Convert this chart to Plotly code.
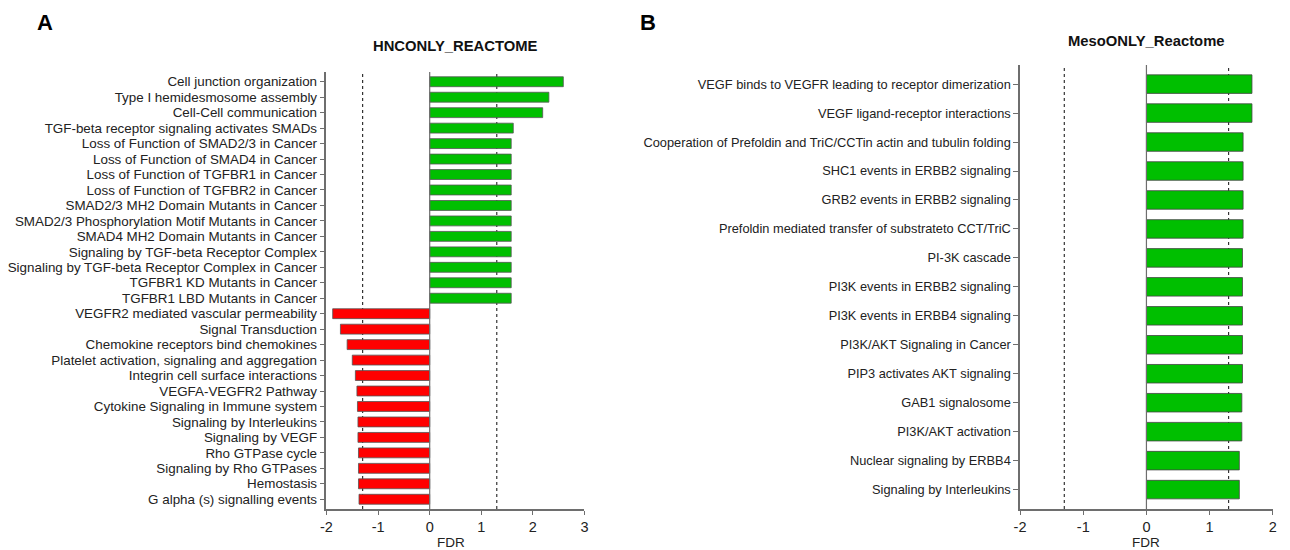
import plotly.graph_objects as go

# Panel A: HNC-only Reactome pathways (signed FDR score)
hnc_terms = [
    "Cell junction organization",
    "Type I hemidesmosome assembly",
    "Cell-Cell communication",
    "TGF-beta receptor signaling activates SMADs",
    "Loss of Function of SMAD2/3 in Cancer",
    "Loss of Function of SMAD4 in Cancer",
    "Loss of Function of TGFBR1 in Cancer",
    "Loss of Function of TGFBR2 in Cancer",
    "SMAD2/3 MH2 Domain Mutants in Cancer",
    "SMAD2/3 Phosphorylation Motif Mutants in Cancer",
    "SMAD4 MH2 Domain Mutants in Cancer",
    "Signaling by TGF-beta Receptor Complex",
    "Signaling by TGF-beta Receptor Complex in Cancer",
    "TGFBR1 KD Mutants in Cancer",
    "TGFBR1 LBD Mutants in Cancer",
    "VEGFR2 mediated vascular permeability",
    "Signal Transduction",
    "Chemokine receptors bind chemokines",
    "Platelet activation, signaling and aggregation",
    "Integrin cell surface interactions",
    "VEGFA-VEGFR2 Pathway",
    "Cytokine Signaling in Immune system",
    "Signaling by Interleukins",
    "Signaling by VEGF",
    "Rho GTPase cycle",
    "Signaling by Rho GTPases",
    "Hemostasis",
    "G alpha (s) signalling events",
]
hnc_fdr = [
    2.59, 2.31, 2.19, 1.62, 1.58, 1.58, 1.58, 1.58, 1.58, 1.58, 1.58, 1.58, 1.58, 1.58, 1.58,
    -1.88, -1.73, -1.60, -1.50, -1.44, -1.41, -1.40, -1.39, -1.39, -1.38, -1.38, -1.38, -1.37,
]

# Panel B: Meso-only Reactome pathways
meso_terms = [
    "VEGF binds to VEGFR leading to receptor dimerization",
    "VEGF ligand-receptor interactions",
    "Cooperation of Prefoldin and TriC/CCTin actin and tubulin folding",
    "SHC1 events in ERBB2 signaling",
    "GRB2 events in ERBB2 signaling",
    "Prefoldin mediated transfer of substrateto CCT/TriC",
    "PI-3K cascade",
    "PI3K events in ERBB2 signaling",
    "PI3K events in ERBB4 signaling",
    "PI3K/AKT Signaling in Cancer",
    "PIP3 activates AKT signaling",
    "GAB1 signalosome",
    "PI3K/AKT activation",
    "Nuclear signaling by ERBB4",
    "Signaling by Interleukins",
]
meso_fdr = [1.67, 1.67, 1.53, 1.53, 1.53, 1.53, 1.52, 1.52, 1.52, 1.52, 1.52, 1.51, 1.51, 1.47, 1.47]

x_ticks_a = [-2, -1, 0, 1, 2, 3]
x_ticks_b = [-2, -1, 0, 1, 2]
threshold = 1.3  # -log10(0.05)

GREEN = "#00BF00"
RED = "#FF0000"
FONT = "Liberation Sans, Arial, sans-serif"
TEXT = "#222222"
AXIS = "#6e6e6e"
W, H = 1290, 550


def colors(vals):
    return [GREEN if v >= 0 else RED for v in vals]


def tick_text(vals):
    # plain hyphen for negatives
    return [str(v) for v in vals]


fig = go.Figure()

fig.add_trace(go.Bar(
    x=hnc_fdr, y=hnc_terms, orientation="h",
    marker=dict(color=colors(hnc_fdr), line=dict(color="#555555", width=0.8)),
    xaxis="x", yaxis="y", showlegend=False,
))
fig.add_trace(go.Bar(
    x=meso_fdr, y=meso_terms, orientation="h",
    marker=dict(color=colors(meso_fdr), line=dict(color="#444444", width=0.8)),
    xaxis="x2", yaxis="y2", showlegend=False,
))

# Panel pixel frames
a_left, a_right, a_top, a_bottom = 323, 583, 72, 509
b_left, b_right, b_top, b_bottom = 1022, 1276.7, 65, 509

axis_common = dict(
    showline=True, linecolor=AXIS, linewidth=1.5,
    ticks="outside", ticklen=4, tickcolor=AXIS, tickwidth=1.2,
    showgrid=False, zeroline=False,
    tickfont=dict(family=FONT, size=14.5, color=TEXT),
)
yaxis_common = dict(
    showline=True, linecolor=AXIS, linewidth=1.5,
    ticks="outside", ticklen=5, tickcolor=AXIS, tickwidth=1.2,
    showgrid=False, zeroline=False, type="category", tickmode="array",
)

fig.update_layout(
    width=W, height=H,
    margin=dict(l=0, r=0, t=0, b=0),
    paper_bgcolor="white", plot_bgcolor="white",
    bargap=0.36,
    xaxis=dict(domain=[a_left / W, a_right / W], range=[-2, 3],
               tickvals=x_ticks_a, ticktext=tick_text(x_ticks_a), anchor="y", **axis_common),
    yaxis=dict(domain=[1 - a_bottom / H, 1 - a_top / H], range=[len(hnc_terms) - 0.37, -0.63],
               tickvals=hnc_terms, ticktext=hnc_terms,
               anchor="x", tickfont=dict(family=FONT, size=13.4, color=TEXT), **yaxis_common),
    xaxis2=dict(domain=[b_left / W, b_right / W], range=[-2, 2],
                tickvals=x_ticks_b, ticktext=tick_text(x_ticks_b), anchor="y2", **axis_common),
    yaxis2=dict(domain=[1 - b_bottom / H, 1 - b_top / H], range=[len(meso_terms) - 0.33, -0.66],
                tickvals=meso_terms, ticktext=meso_terms,
                anchor="x2", tickfont=dict(family=FONT, size=12.8, color=TEXT), **yaxis_common),
)

# Zero lines and significance thresholds
for xref, yref in (("x", "y domain"), ("x2", "y2 domain")):
    fig.add_shape(type="line", xref=xref, yref=yref, x0=0, x1=0, y0=0, y1=1,
                  line=dict(color=AXIS, width=1.2), layer="above")
    for xv in (-threshold, threshold):
        fig.add_shape(type="line", xref=xref, yref=yref, x0=xv, x1=xv, y0=0, y1=1,
                      line=dict(color="#333333", width=1.2, dash="dot"), layer="below")


def label(text, x, y, size, color=TEXT):
    fig.add_annotation(text=text, x=x / W, y=1 - y / H, xref="paper", yref="paper",
                       xanchor="center", yanchor="middle", showarrow=False,
                       font=dict(family=FONT, size=size, color=color))


# Axis titles, panel titles and panel letters
label("FDR", 448, 542, 13.5)
label("FDR", 1149, 542, 13.5)
label("<b>HNCONLY_REACTOME</b>", 453, 46, 14.8, "#111111")
label("<b>MesoONLY_Reactome</b>", 1149, 41, 14.8, "#111111")
label("<b>A</b>", 39, 22, 22, "#000000")
label("<b>B</b>", 647, 22, 22, "#000000")

fig.write_html("out.html")
